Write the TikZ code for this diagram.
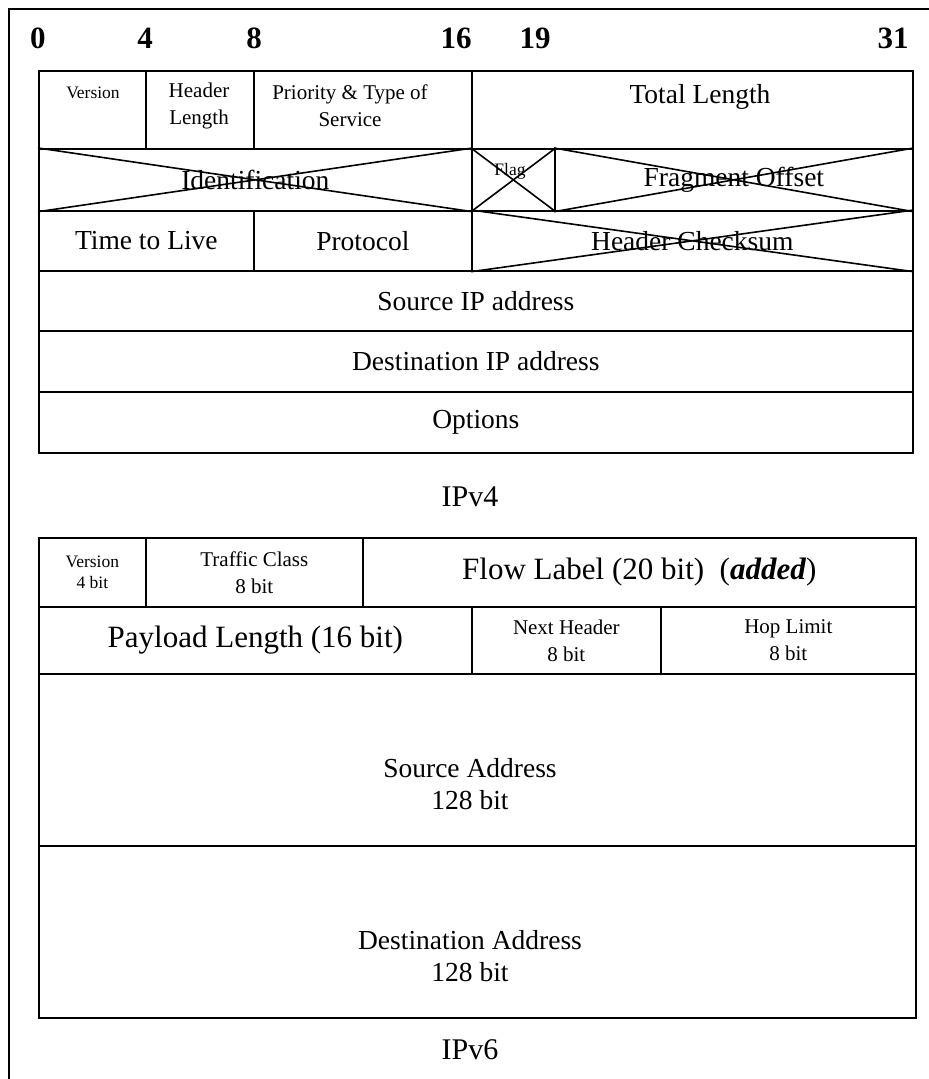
\documentclass[tikz,border=0pt]{standalone}
\usepackage{fontspec}
\setmainfont{Liberation Serif}
\usetikzlibrary{positioning}
\tikzset{
	field/.style={draw, line width=1.7pt, anchor=north west, inner sep=0pt},
	xline/.style={line width=1.6pt},
	frame/.style={line width=1.7pt},
	bitnum/.style={font=\fontsize{31}{36}\selectfont\bfseries},
	tinytext/.style={font=\fontsize{17.5}{21}\selectfont, align=center},
	smalltext/.style={font=\fontsize{21}{27}\selectfont, align=center},
	bigtext/.style={font=\fontsize{27.5}{32}\selectfont, align=center},
	hugetext/.style={font=\fontsize{31}{34}\selectfont, align=center},
	caption/.style={font=\fontsize{30}{32}\selectfont}
}
\begin{document}
\begin{tikzpicture}[x=1pt, y=-1pt]
		\useasboundingbox (0,0) rectangle (929,1079);
		\draw[frame] (9,1079) -- (9,9) -- (929,9);
		% bit positions
		\node[bitnum] (b0) at (38,38) {0};
		\node[bitnum] (b4) at (145,38) {4};
		\node[bitnum] (b8) at (254,38) {8};
		\node[bitnum] (b16) at (456,38) {16};
		\node[bitnum] (b19) at (535,38) {19};
		\node[bitnum] (b31) at (893,38) {31};
		% IPv4 header
		\node[field, minimum width=107pt, minimum height=78pt] (ver4) at (38,70) {};
		\node[field, minimum width=108pt, minimum height=78pt] (hlen) at (145,70) {};
		\node[field, minimum width=218pt, minimum height=78pt] (tos) at (253,70) {};
		\node[field, minimum width=441pt, minimum height=78pt] (tlen) at (471,70) {};
		\node[tinytext] (tver4) at (93,93) {Version};
		\node[smalltext] (thlen) at (199,106) {Header\\Length};
		\node[smalltext] (ttos) at (350,106) {Priority \& Type of\\Service};
		\node[bigtext] (ttlen) at (700,97) {Total Length};
		\node[field, bigtext, minimum width=433pt, minimum height=62pt] (ident) at (38,148) {Identification};
		\node[field, minimum width=83pt, minimum height=62pt] (flag) at (471,148) {};
		\node[tinytext] (tflag) at (510,171) {Flag};
		\node[field, bigtext, minimum width=358pt, minimum height=62pt] (frag) at (554,148) {Fragment Offset};
		\draw[xline] (ident.north west) -- (ident.south east) (ident.south west) -- (ident.north east);
		\draw[xline] (flag.north west) -- (flag.south east) (flag.south west) -- (flag.north east);
		\draw[xline] (frag.north west) -- (frag.south east) (frag.south west) -- (frag.north east);
		\node[field, bigtext, minimum width=215pt, minimum height=60pt] (ttl) at (38,210) {Time to Live};
		\node[field, bigtext, minimum width=218pt, minimum height=60pt] (proto) at (253,210) {Protocol};
		\node[field, bigtext, minimum width=441pt, minimum height=60pt] (hcks) at (471,210) {Header Checksum};
		\draw[xline] (hcks.north west) -- (hcks.south east) (hcks.south west) -- (hcks.north east);
		\node[field, bigtext, minimum width=874pt, minimum height=60pt] (src4) at (38,270) {Source IP address};
		\node[field, bigtext, minimum width=874pt, minimum height=61pt] (dst4) at (38,330) {Destination IP address};
		\node[field, bigtext, minimum width=874pt, minimum height=61pt] (opt) at (38,391) {Options};
		\node[caption] (cap4) at (470,497) {IPv4};
		% IPv6 header
		\node[field, tinytext, minimum width=107pt, minimum height=69pt] (ver6) at (38,537) {Version\\4 bit};
		\node[field, smalltext, minimum width=217pt, minimum height=69pt] (tclass) at (145,537) {Traffic Class\\8 bit};
		\node[field, hugetext, minimum width=553pt, minimum height=69pt] (flow) at (362,537) {Flow Label (20 bit)\enspace(\textbf{\textit{added}})};
		\node[field, hugetext, minimum width=433pt, minimum height=67pt] (plen) at (38,606) {Payload Length (16 bit)};
		\node[field, smalltext, minimum width=189pt, minimum height=67pt] (nxt) at (471,606) {Next Header\\8 bit};
		\node[field, smalltext, minimum width=255pt, minimum height=67pt] (hop) at (660,606) {Hop Limit\\8 bit};
		\node[field, minimum width=877pt, minimum height=172pt] (src6) at (38,673) {};
		\node[field, minimum width=877pt, minimum height=172pt] (dst6) at (38,845) {};
		\node[bigtext] (tsrc6) at (470,784) {Source Address\\128 bit};
		\node[bigtext] (tdst6) at (470,956) {Destination Address\\128 bit};
		\node[caption] (cap6) at (470,1050) {IPv6};
\end{tikzpicture}
\end{document}
